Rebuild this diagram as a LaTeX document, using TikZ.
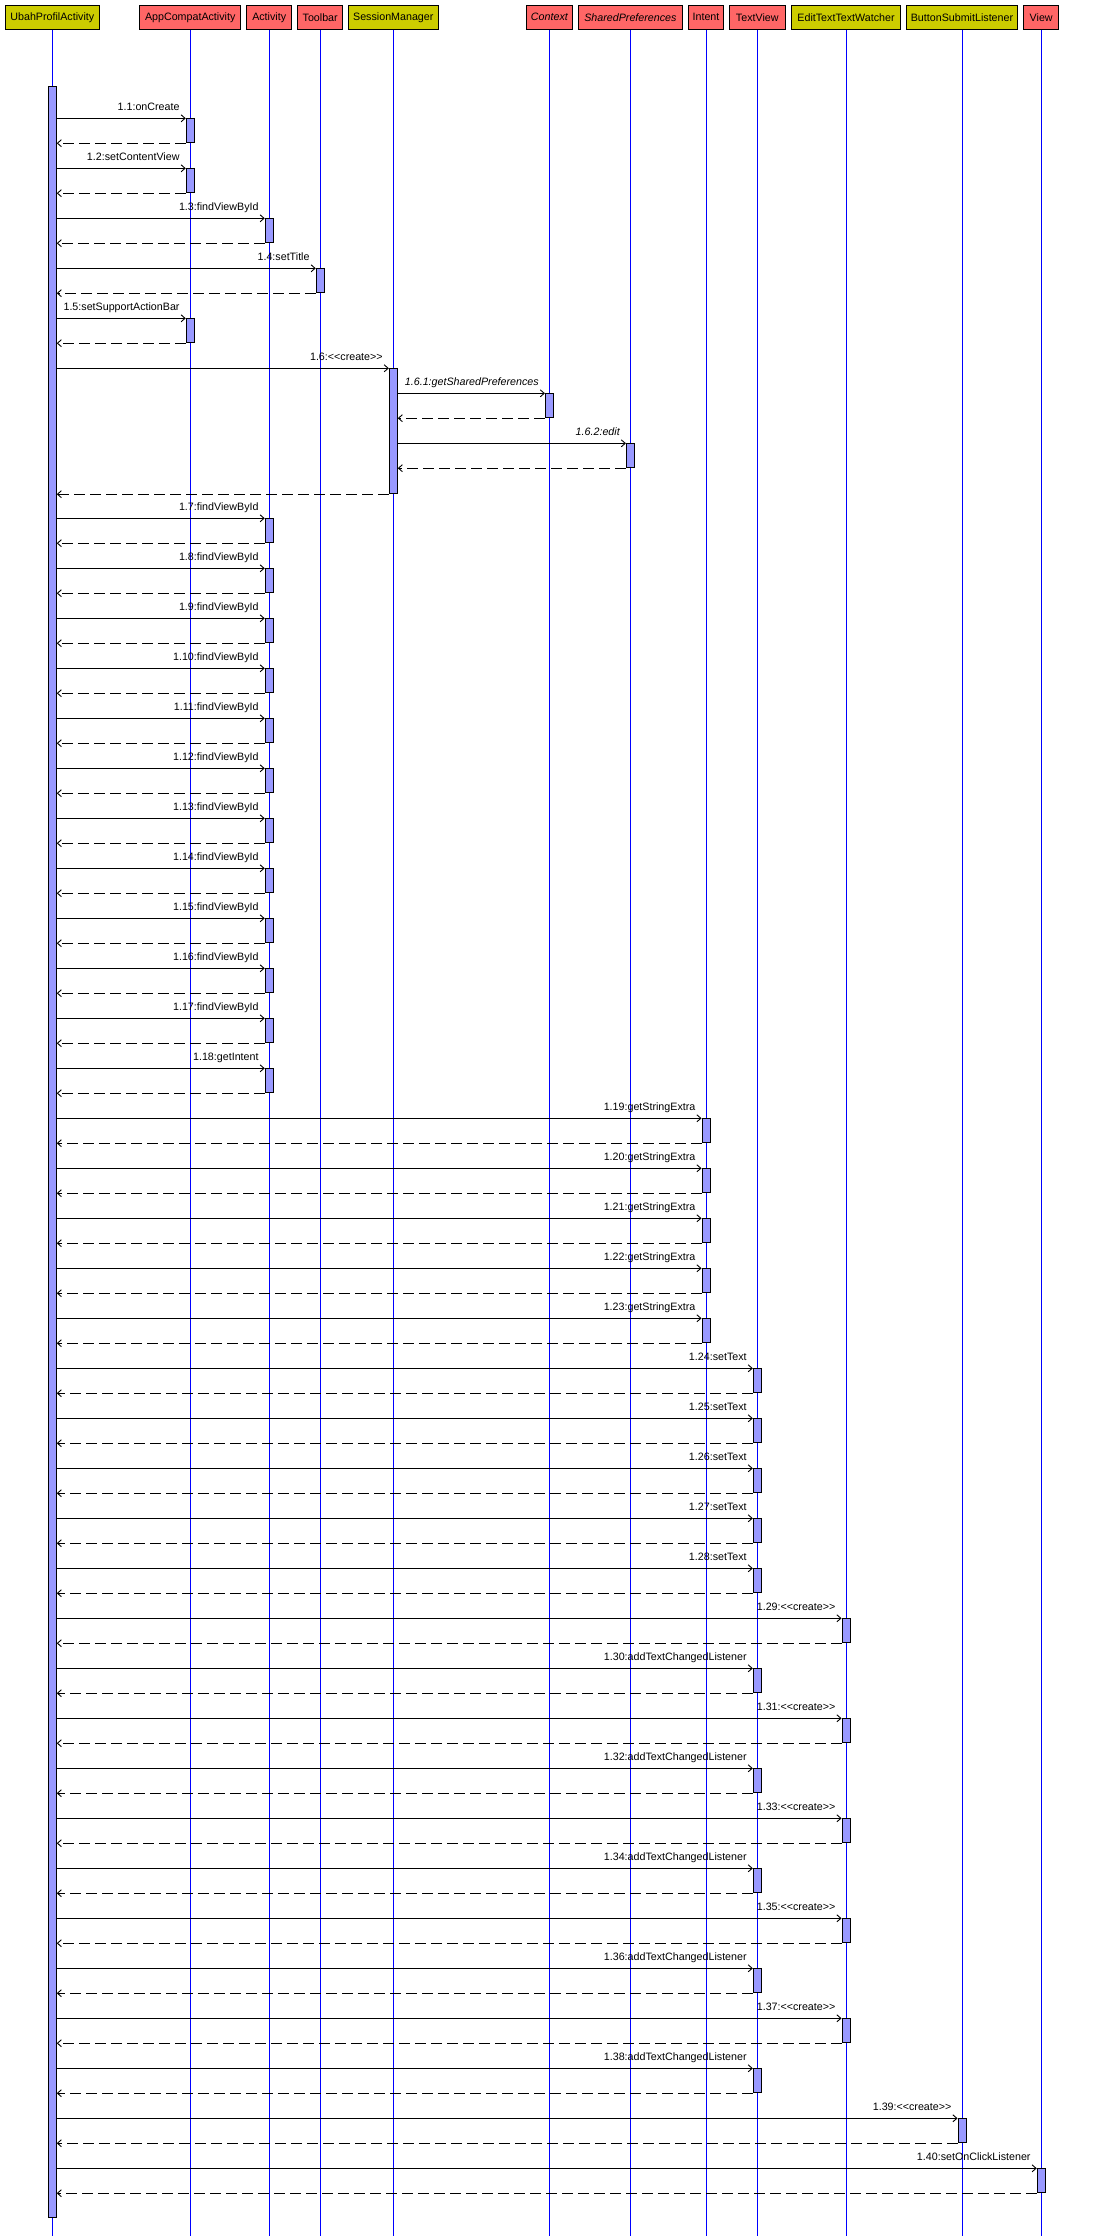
\documentclass[tikz,border=0pt]{standalone}
\usepackage{fontspec}
\setmainfont{Liberation Sans}
\usetikzlibrary{arrows.meta}
\definecolor{hred}{HTML}{FF6666}
\definecolor{hyel}{HTML}{CCCC00}
\definecolor{actfill}{HTML}{9999FF}
\definecolor{lifeblue}{HTML}{0000FF}
\newcommand\lfont{\fontsize{10.7}{12}\selectfont}
\newcommand\crt{<\kern0pt<create>\kern0pt>}
\tikzset{
  hdr/.style={draw=black, line width=0.9pt, minimum height=24pt, inner sep=0pt, font=\lfont},
  hredbox/.style={hdr, fill=hred},
  hyelbox/.style={hdr, fill=hyel},
  life/.style={draw=lifeblue, line width=0.9pt},
  actbox/.style={draw=black, line width=0.9pt, fill=actfill, minimum width=8pt, inner sep=0pt},
  callarrow/.style={draw=black, line width=0.9pt, -{Straight Barb[length=4pt,width=7pt]}},
  retarrow/.style={draw=black, line width=0.9pt, dash pattern=on 11pt off 5pt, -{Straight Barb[length=4pt,width=7pt]}},
  lbl/.style={font=\lfont, inner sep=0pt, anchor=base east},
}
\newcommand\callmsg[5]{%
  \coordinate (y#1) at (0,#4);
  \node[actbox, minimum height=24pt, anchor=north] (#1) at (#3 |- y#1) {};
  \draw[callarrow] (#2.east |- #1.north) -- (#1.north west);
  \draw[retarrow] (#1.south west) -- (#2.east |- #1.south);
  \path (#1.north west) ++(-6pt,8.3pt) node[lbl] {#5};
}
\begin{document}
\begin{tikzpicture}[x=1pt,y=-1pt]
\useasboundingbox[fill=white] (0,0) rectangle (1100,2236);
\coordinate (bot) at (0,2236);
% headers
\node[hyelbox, minimum width=94pt]  (h1)  at (52.3,17.3)   {UbahProfilActivity};
\node[hredbox, minimum width=101pt] (h2)  at (190.2,17.3)  {AppCompatActivity};
\node[hredbox, minimum width=45pt]  (h3)  at (269.2,17.3)  {Activity};
\node[hredbox, minimum width=45pt]  (h4)  at (320.2,17.3)  {Toolbar};
\node[hyelbox, minimum width=90pt]  (h5)  at (393.3,17.3)  {SessionManager};
\node[hredbox, minimum width=46pt]  (h6)  at (549.4,17.3)  {\itshape Context};
\node[hredbox, minimum width=104pt] (h7)  at (630.4,17.3)  {\itshape SharedPreferences};
\node[hredbox, minimum width=35pt]  (h8)  at (706,17.3)    {Intent};
\node[hredbox, minimum width=56pt]  (h9)  at (757.3,17.3)  {TextView};
\node[hyelbox, minimum width=109pt] (h10) at (846,17.3)    {EditTextTextWatcher};
\node[hyelbox, minimum width=111pt] (h11) at (962,17.3)    {ButtonSubmitListener};
\node[hredbox, minimum width=35pt]  (h12) at (1041.2,17.3) {View};
% lifelines
\foreach \h in {h1,h2,h3,h4,h5,h6,h7,h8,h9,h10,h11,h12}{
  \draw[life] (\h.south) -- (\h.south |- bot);
}
% main activation
\coordinate (uatop) at (0,85.7);
\node[actbox, minimum height=2131.6pt, anchor=north] (ua) at (h1 |- uatop) {};
% messages
\callmsg{m1}{ua}{h2}{118.3}{1.1:onCreate}
\callmsg{m2}{ua}{h2}{168.3}{1.2:setContentView}
\callmsg{m3}{ua}{h3}{218.3}{1.3:findViewById}
\callmsg{m4}{ua}{h4}{268.3}{1.4:setTitle}
\callmsg{m5}{ua}{h2}{318.3}{1.5:setSupportActionBar}
% 1.6 with nested calls
\coordinate (ym6) at (0,368.3);
\node[actbox, minimum height=125pt, anchor=north] (m6) at (h5 |- ym6) {};
\draw[callarrow] (ua.east |- m6.north) -- (m6.north west);
\path (m6.north west) ++(-6pt,8.3pt) node[lbl] {1.6:\crt};
\callmsg{m61}{m6}{h6}{393.3}{\itshape 1.6.1:getSharedPreferences}
\callmsg{m62}{m6}{h7}{443.3}{\itshape 1.6.2:edit}
\draw[retarrow] (m6.south west) -- (ua.east |- m6.south);
% 1.7 - 1.17
\foreach \k in {7,...,17}{
  \pgfmathsetmacro\yy{518.3+(\k-7)*50}
  \callmsg{m\k}{ua}{h3}{\yy}{1.\k:findViewById}
}
\callmsg{m18}{ua}{h3}{1068.3}{1.18:getIntent}
\foreach \k in {19,...,23}{
  \pgfmathsetmacro\yy{1118.3+(\k-19)*50}
  \callmsg{m\k}{ua}{h8}{\yy}{1.\k:getStringExtra}
}
\foreach \k in {24,...,28}{
  \pgfmathsetmacro\yy{1368.3+(\k-24)*50}
  \callmsg{m\k}{ua}{h9}{\yy}{1.\k:setText}
}
\foreach \k in {29,31,33,35,37}{
  \pgfmathsetmacro\yy{1618.3+(\k-29)*50}
  \callmsg{m\k}{ua}{h10}{\yy}{1.\k:\crt}
}
\foreach \k in {30,32,34,36,38}{
  \pgfmathsetmacro\yy{1618.3+(\k-29)*50}
  \callmsg{m\k}{ua}{h9}{\yy}{1.\k:addTextChangedListener}
}
\callmsg{m39}{ua}{h11}{2118.3}{1.39:\crt}
\callmsg{m40}{ua}{h12}{2168.3}{1.40:setOnClickListener}
\end{tikzpicture}
\end{document}
